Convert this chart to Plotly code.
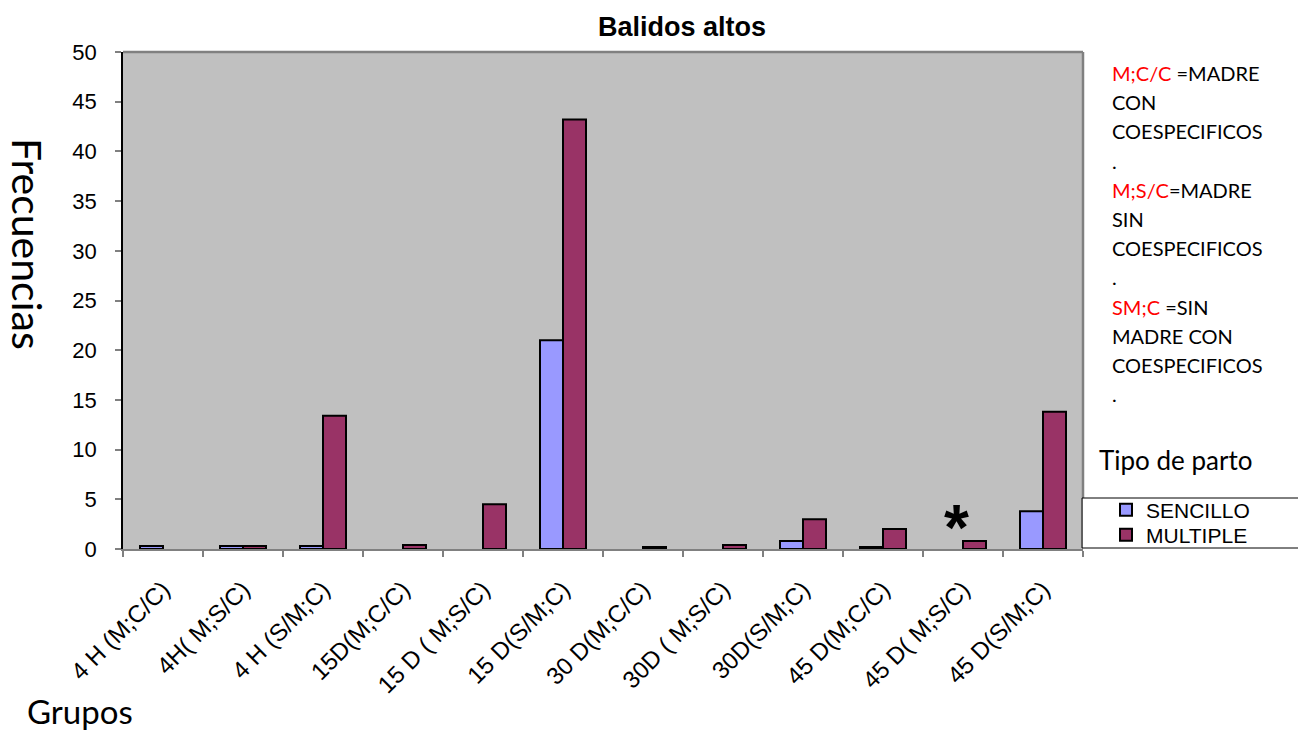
import plotly.graph_objects as go

# Group labels (age / condition) and observed frequencies of loud bleats
grupos = ["4 H (M;C/C)", "4H( M;S/C)", "4 H (S/M;C)", "15D(M;C/C)", "15 D ( M;S/C)",
          "15 D(S/M;C)", "30 D(M;C/C)", "30D ( M;S/C)", "30D(S/M;C)", "45 D(M;C/C)",
          "45 D( M;S/C)", "45 D(S/M;C)"]
sencillo = [0.3, 0.3, 0.3, 0, 0, 21, 0, 0, 0.8, 0.2, 0, 3.8]
multiple = [0, 0.3, 13.4, 0.4, 4.5, 43.2, 0.2, 0.4, 3.0, 2.0, 0.8, 13.8]
y_ticks = list(range(0, 51, 5))

ARIAL = "Arial, Liberation Sans, sans-serif"
CALIBRI = "Lato, Open Sans, sans-serif"

W, H = 1298, 734
L, R, T, B = 123, 215, 52, 185
PW, PH = W - L - R, H - T - B


def px_x(x):
    return (x - L) / PW


def px_y(y):
    return (H - B - y) / PH


def no_zero(vals):
    # empty groups get no bar at all rather than a flat outline
    return [v if v else None for v in vals]


fig = go.Figure()
fig.add_bar(x=grupos, y=no_zero(sencillo), name="SENCILLO", legend="legend",
            marker=dict(color="#9999FF", line=dict(color="black", width=2)))
fig.add_bar(x=grupos, y=no_zero(multiple), name="MULTIPLE", legend="legend2",
            marker=dict(color="#993366", line=dict(color="black", width=2)))

legend_style = dict(xanchor="left", yanchor="middle",
                    font=dict(family=ARIAL, size=21, color="black"),
                    bgcolor="rgba(0,0,0,0)", borderwidth=0, itemwidth=30)

fig.update_layout(
    width=W, height=H,
    margin=dict(l=L, r=R, t=T, b=B, pad=0),
    paper_bgcolor="white",
    plot_bgcolor="#C0C0C0",
    barmode="group", bargap=0.425, bargroupgap=0,
    showlegend=True,
    legend=dict(x=px_x(1106), y=px_y(510), **legend_style),
    legend2=dict(x=px_x(1106), y=px_y(535), **legend_style),
    title=dict(text="<b>Balidos altos</b>", xref="container", x=682 / W, xanchor="center",
               y=1 - 27 / H, yanchor="middle",
               font=dict(family=ARIAL, size=27, color="black")),
    font=dict(family=ARIAL, color="black"),
)

fig.update_xaxes(
    type="category", tickson="boundaries", ticks="outside", ticklen=6,
    tickcolor="#808080", tickwidth=1.5, tickangle=-45,
    tickfont=dict(family=ARIAL, size=24, color="black"),
    showline=True, linecolor="#808080", linewidth=1.5,
    showgrid=False, zeroline=False, ticklabelstandoff=15,
)
fig.update_yaxes(
    range=[0, 50], tickvals=y_ticks, ticks="outside", ticklen=6,
    tickcolor="#808080", tickwidth=1.5,
    tickfont=dict(family=ARIAL, size=22, color="black"),
    showline=True, linecolor="black", linewidth=1.5,
    showgrid=False, zeroline=False, ticklabelstandoff=14,
)

# Plot-area frame (top and right edges in grey)
fig.add_shape(type="line", xref="paper", yref="paper", x0=0, x1=1, y0=1, y1=1,
              line=dict(color="#808080", width=2.5))
fig.add_shape(type="line", xref="paper", yref="paper", x0=1, x1=1, y0=px_y(498), y1=1,
              line=dict(color="#808080", width=2.5))

# Legend box
fig.add_shape(type="rect", xref="paper", yref="paper",
              x0=px_x(1082), x1=px_x(1305), y0=px_y(548), y1=px_y(498),
              line=dict(color="black", width=1), fillcolor="rgba(0,0,0,0)")

# Axis titles
fig.add_annotation(text="Frecuencias", xref="paper", yref="paper",
                   x=px_x(28), y=px_y(244), textangle=90, showarrow=False,
                   xanchor="center", yanchor="middle",
                   font=dict(family=CALIBRI, size=41, color="black"))
fig.add_annotation(text="Grupos", xref="paper", yref="paper",
                   x=px_x(25), y=px_y(733), xanchor="left", yanchor="bottom",
                   showarrow=False, font=dict(family=CALIBRI, size=33, color="black"))

# Abbreviation key, one line per annotation
RED = "<span style='color:red'>%s</span>"
key_lines = [
    RED % "M;C/C" + " =MADRE", "CON", "COESPECIFICOS", ".",
    RED % "M;S/C" + "=MADRE", "SIN", "COESPECIFICOS", ".",
    RED % "SM;C" + " =SIN", "MADRE CON", "COESPECIFICOS", ".",
]
for i, line in enumerate(key_lines):
    fig.add_annotation(text=line, xref="paper", yref="paper",
                       x=px_x(1110), y=px_y(73 + 29.2 * i), xanchor="left", yanchor="middle",
                       align="left", showarrow=False,
                       font=dict(family=CALIBRI, size=20, color="black"))

fig.add_annotation(text="Tipo de parto", xref="paper", yref="paper",
                   x=px_x(1097), y=px_y(460), xanchor="left", yanchor="middle",
                   showarrow=False, font=dict(family=CALIBRI, size=26, color="black"))

# Significance mark over the 45 D( M;S/C) group
fig.add_annotation(text="<b>*</b>", x=grupos[10], y=3.3, xshift=-7, yshift=-12,
                   showarrow=False, font=dict(family=ARIAL, size=64, color="black"))

fig.write_html("out.html")
